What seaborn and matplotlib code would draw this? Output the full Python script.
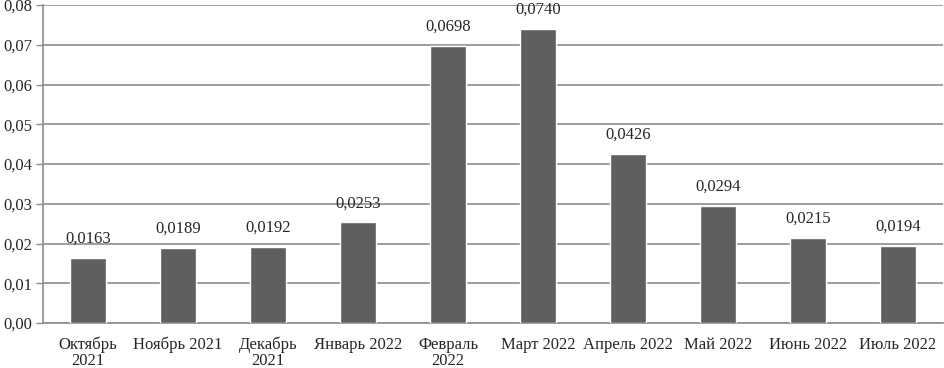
import matplotlib
matplotlib.use("Agg")
import matplotlib.pyplot as plt
import seaborn as sns
import pandas as pd
import numpy as np
from matplotlib.ticker import FixedLocator, FuncFormatter

categories = ["Октябрь\n2021", "Ноябрь 2021", "Декабрь\n2021", "Январь 2022", "Февраль\n2022",
              "Март 2022", "Апрель 2022", "Май 2022", "Июнь 2022", "Июль 2022"]
values = [0.0163, 0.0189, 0.0192, 0.0253, 0.0698, 0.0740, 0.0426, 0.0294, 0.0215, 0.0194]
labels = ["0,0163", "0,0189", "0,0192", "0,0253", "0,0698", "0,0740", "0,0426", "0,0294", "0,0215", "0,0194"]

sns.set_style("white")
plt.rcParams['font.family'] = ['Liberation Serif', 'DejaVu Serif']

FS = 12
df = pd.DataFrame({"cat": categories, "val": values})
fig = plt.figure(figsize=(9.44, 3.68), dpi=100)
ax = fig.add_axes([43/944, 1-323/368, 1-43/944-1/944, (323-5)/368])
sns.barplot(data=df, x="cat", y="val", color="#5f5f5f", saturation=1, width=0.4, ax=ax, zorder=3)
ax.set_xlim(-0.5, len(categories)-0.5)
ax.set_ylim(0, 0.08)
ax.set_yticks(np.arange(0, 0.0801, 0.01))
ax.yaxis.set_major_formatter(FuncFormatter(lambda v, p: f"{v:.2f}".replace(".", ",")))
ax.grid(axis="y", color="#8c8c8c", linewidth=1.2, zorder=0)
ax.set_axisbelow(True)
for s in ["top", "right"]:
    ax.spines[s].set_visible(False)
for s in ["left", "bottom"]:
    ax.spines[s].set_color("#8c8c8c")
    ax.spines[s].set_linewidth(1.2)
ax.set_xlabel("")
ax.set_ylabel("")
ax.tick_params(axis="x", which="major", length=0, labelsize=FS, pad=10)
ax.xaxis.set_minor_locator(FixedLocator(np.arange(-0.5, len(categories), 1.0)))
ax.tick_params(axis="x", which="minor", length=5, color="#8c8c8c", width=1)
ax.tick_params(axis="y", length=5, color="#8c8c8c", width=1, labelsize=FS, pad=3, left=True)
for lbl in ax.get_xticklabels():
    lbl.set_linespacing(1.0)
for i, (v, t) in enumerate(zip(values, labels)):
    ax.annotate(t, (i, v), xytext=(0, 8), textcoords="offset points", ha="center", va="bottom", fontsize=FS)
fig.savefig("out.png", dpi=100)
